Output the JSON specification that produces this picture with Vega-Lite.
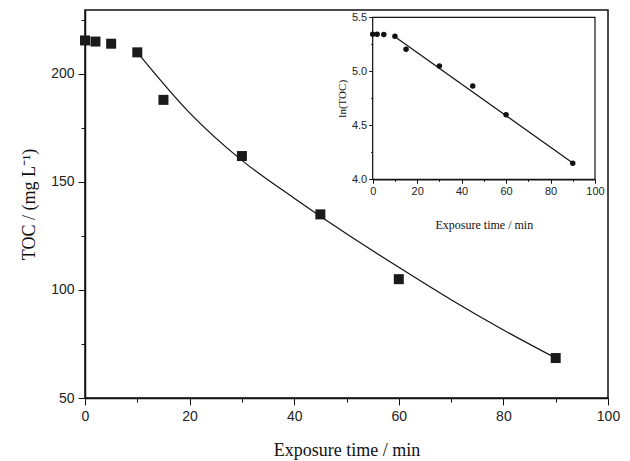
{
  "$schema": "https://vega.github.io/schema/vega-lite/v6.json",
  "width": 523,
  "height": 388,
  "autosize": "none",
  "padding": {"left": 85, "top": 10, "right": 22, "bottom": 63},
  "background": "white",
  "config": {
    "view": {"stroke": "#111", "strokeWidth": 1.5},
    "axis": {
      "domainColor": "#111",
      "domainWidth": 1.5,
      "tickColor": "#111",
      "tickWidth": 1,
      "labelColor": "#222",
      "labelFont": "Liberation Sans",
      "labelFlush": false,
      "labelOverlap": false,
      "titleFont": "Liberation Serif",
      "titleFontWeight": "normal",
      "titleColor": "#111",
      "grid": false
    }
  },
  "datasets": {
    "toc": [
      {"t": 0, "toc": 215.5},
      {"t": 2, "toc": 215},
      {"t": 5, "toc": 214},
      {"t": 10, "toc": 210},
      {"t": 15, "toc": 188},
      {"t": 30, "toc": 162},
      {"t": 45, "toc": 135},
      {"t": 60, "toc": 105},
      {"t": 90, "toc": 68.5}
    ],
    "fit": [
      {"t": 10, "toc": 210},
      {"t": 20, "toc": 182},
      {"t": 30, "toc": 160},
      {"t": 40, "toc": 142.5},
      {"t": 50, "toc": 126},
      {"t": 60, "toc": 110.5},
      {"t": 70, "toc": 95.5},
      {"t": 80, "toc": 81.5},
      {"t": 90, "toc": 68.5}
    ],
    "lntoc": [
      {"t": 0, "ln": 5.343},
      {"t": 2, "ln": 5.343},
      {"t": 5, "ln": 5.34},
      {"t": 10, "ln": 5.325},
      {"t": 15, "ln": 5.204},
      {"t": 30, "ln": 5.049},
      {"t": 45, "ln": 4.864},
      {"t": 60, "ln": 4.598},
      {"t": 90, "ln": 4.148}
    ],
    "lnfit": [
      {"t": 10, "ln": 5.32},
      {"t": 90, "ln": 4.15}
    ],
    "frame": [
      {"x0": 0, "x1": 100, "y0": 4.0, "y1": 5.5}
    ]
  },
  "layer": [
    {
      "layer": [
        {
          "data": {"name": "fit"},
          "mark": {"type": "line", "color": "#111", "strokeWidth": 1.2, "interpolate": "monotone"},
          "encoding": {
            "x": {"field": "t", "type": "quantitative"},
            "y": {"field": "toc", "type": "quantitative"}
          }
        },
        {
          "data": {"name": "toc"},
          "mark": {"type": "point", "shape": "square", "filled": true, "size": 100, "color": "#1a1a1a", "opacity": 1},
          "encoding": {
            "x": {
              "field": "t",
              "type": "quantitative",
              "scale": {"domain": [0, 100], "nice": false},
              "axis": {
                "orient": "bottom",
                "title": "Exposure time / min",
                "titleFontSize": 18,
                "titlePadding": 18,
                "values": [0, 20, 40, 60, 80, 100],
                "labelFontSize": 14,
                "labelPadding": 4,
                "tickSize": 7
              }
            },
            "y": {
              "field": "toc",
              "type": "quantitative",
              "scale": {"domain": [50, 229.6], "nice": false, "zero": false},
              "axis": {
                "orient": "left",
                "title": "TOC / (mg L⁻¹)",
                "titleFontSize": 18,
                "titlePadding": 12,
                "values": [50, 100, 150, 200],
                "labelFontSize": 14,
                "labelPadding": 4,
                "tickSize": 7
              }
            }
          }
        }
      ]
    },
    {
      "data": {"name": "toc"},
      "mark": {"type": "point", "opacity": 0},
      "encoding": {
        "x": {
          "field": "t",
          "type": "quantitative",
          "scale": {"domain": [0, 100], "nice": false},
          "axis": {"orient": "bottom", "title": null, "labels": false, "domain": false, "values": [10, 30, 50, 70, 90], "tickSize": 4}
        },
        "y": {
          "field": "toc",
          "type": "quantitative",
          "scale": {"domain": [50, 229.6], "nice": false, "zero": false},
          "axis": {"orient": "left", "title": null, "labels": false, "domain": false, "values": [75, 125, 175, 225], "tickSize": 4}
        }
      }
    },
    {
      "layer": [
        {
          "data": {"name": "frame"},
          "mark": {"type": "rect", "fill": "white", "stroke": "#111", "strokeWidth": 1.2},
          "encoding": {
            "x": {"field": "x0", "type": "quantitative"},
            "x2": {"field": "x1"},
            "y": {"field": "y0", "type": "quantitative"},
            "y2": {"field": "y1"}
          }
        },
        {
          "data": {"name": "lnfit"},
          "mark": {"type": "line", "color": "#111", "strokeWidth": 1.2},
          "encoding": {
            "x": {"field": "t", "type": "quantitative"},
            "y": {"field": "ln", "type": "quantitative"}
          }
        },
        {
          "data": {"name": "lntoc"},
          "mark": {"type": "circle", "size": 30, "color": "#111", "opacity": 1},
          "encoding": {
            "x": {
              "field": "t",
              "type": "quantitative",
              "scale": {"domain": [0, 100], "nice": false, "range": [287.7, 510]},
              "axis": {
                "orient": "bottom",
                "offset": -218.7,
                "title": "Exposure time / min",
                "titleFontSize": 12,
                "titlePadding": 23,
                "values": [0, 20, 40, 60, 80, 100],
                "labelFontSize": 11,
                "labelPadding": 2,
                "domainWidth": 1.2,
                "tickSize": 4
              }
            },
            "y": {
              "field": "ln",
              "type": "quantitative",
              "scale": {"domain": [4.0, 5.5], "nice": false, "zero": false, "range": [169.3, 7.3]},
              "axis": {
                "orient": "left",
                "offset": -287.7,
                "title": "ln(TOC)",
                "titleFontSize": 11,
                "titlePadding": 4,
                "values": [4.0, 4.5, 5.0, 5.5],
                "format": ".1f",
                "labelFontSize": 11,
                "labelPadding": 2,
                "domainWidth": 1.2,
                "tickSize": 4
              }
            }
          }
        }
      ]
    },
    {
      "data": {"name": "lntoc"},
      "mark": {"type": "point", "opacity": 0},
      "encoding": {
        "x": {
          "field": "t",
          "type": "quantitative",
          "scale": {"domain": [0, 100], "nice": false, "range": [287.7, 510]},
          "axis": {"orient": "bottom", "offset": -218.7, "title": null, "labels": false, "domain": false, "values": [10, 30, 50, 70, 90], "tickSize": 2}
        },
        "y": {
          "field": "ln",
          "type": "quantitative",
          "scale": {"domain": [4.0, 5.5], "nice": false, "zero": false, "range": [169.3, 7.3]},
          "axis": {"orient": "left", "offset": -287.7, "title": null, "labels": false, "domain": false, "values": [4.25, 4.75, 5.25], "tickSize": 2}
        }
      }
    }
  ],
  "resolve": {
    "scale": {"x": "independent", "y": "independent"},
    "axis": {"x": "independent", "y": "independent"}
  }
}
